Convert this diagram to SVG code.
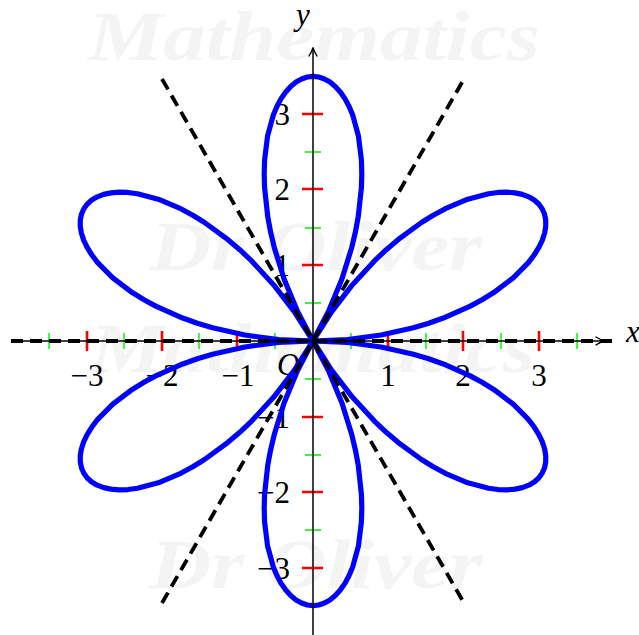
<svg xmlns="http://www.w3.org/2000/svg" width="639" height="635" viewBox="0 0 639 635">
<style>
.wm{font-family:"Liberation Serif","DejaVu Serif",serif;font-style:italic;font-weight:bold;font-size:70px;fill:#f4f4f4}
.lbl{font-family:"Liberation Serif","DejaVu Serif",serif;font-size:31px;fill:#000}
.it{font-style:italic}
.maj{stroke:#ff0000;stroke-width:2.6}
.min{stroke:#00ee00;stroke-width:1.4}
.axis{stroke:#000;stroke-width:1.5;fill:none}
.dash{stroke:#000;stroke-width:3.8;stroke-dasharray:12 7;fill:none}
.petal{fill:none;stroke:#0000ff;stroke-width:5.2;stroke-linejoin:round}
</style>
<defs>
<marker id="arr" viewBox="0 0 10 10" refX="9" refY="5" markerWidth="10" markerHeight="10" markerUnits="userSpaceOnUse" orient="auto">
<path d="M0.5,0.8 Q5.5,4 9.5,5 Q5.5,6 0.5,9.2" fill="none" stroke="#000" stroke-width="1.3"/>
</marker>
<path id="pt" d="M0,0 L15.95,-30.64 L28.94,-62.06 L38.75,-93.55 L42.42,-109.07 L45.25,-124.32 L48.44,-153.63 L48.8,-167 L48.43,-180.73 L45.43,-204.95 L39.79,-225.67 L36.10,-234.55 L31.91,-242.37 L27.28,-249.07 L22.28,-254.61 L16.97,-258.96 L11.44,-262.08 L5.76,-263.97 L0,-264.6 L-5.76,-263.97 L-11.44,-262.08 L-16.97,-258.96 L-22.28,-254.61 L-27.28,-249.07 L-31.91,-242.37 L-36.10,-234.55 L-39.79,-225.67 L-45.43,-204.95 L-48.43,-180.73 L-48.8,-167 L-48.44,-153.63 L-45.25,-124.32 L-42.42,-109.07 L-38.75,-93.55 L-28.94,-62.06 L-15.95,-30.64 Z"/>
</defs>
<rect width="639" height="635" fill="#fff"/>
<g id="watermark">
<text class="wm" x="88" y="60" textLength="452" lengthAdjust="spacingAndGlyphs">Mathematics</text>
<text class="wm" x="150" y="270" textLength="332" lengthAdjust="spacingAndGlyphs">Dr Oliver</text>
<text class="wm" x="90" y="372" textLength="445" lengthAdjust="spacingAndGlyphs">Mathematics</text>
<text class="wm" x="150" y="588" textLength="332" lengthAdjust="spacingAndGlyphs">Dr Oliver</text>
<text class="wm" x="90" y="684" textLength="445" lengthAdjust="spacingAndGlyphs">Mathematics</text>
</g>
<g id="ticks">
<path class="maj" d="M87,331V351 M162,331V351 M237,331V351 M388,331V351 M463,331V351 M539,331V351"/>
<path class="min" d="M49,333V349 M124,333V349 M199,333V349 M275,333V349 M351,333V349 M426,333V349 M501,333V349 M577,333V349"/>
<path class="maj" d="M302,114H323 M302,189H323 M302,265H323 M302,417H323 M302,492H323 M302,568H323"/>
<path class="min" d="M305,76H321 M305,152H321 M305,228H321 M305,303H321 M305,379H321 M305,455H321 M305,530H321 M305,606H321"/>
</g>
<g id="labels">
<g class="lbl" text-anchor="middle">
<text x="87" y="386">−3</text>
<text x="162" y="386">−2</text>
<text x="238" y="386">−1</text>
<text x="388" y="386">1</text>
<text x="463" y="386">2</text>
<text x="539" y="386">3</text>
</g>
<g class="lbl" text-anchor="end">
<text x="290" y="125">3</text>
<text x="290" y="200">2</text>
<text x="290" y="276">1</text>
<text x="290" y="428">−1</text>
<text x="290" y="503">−2</text>
<text x="290" y="579">−3</text>
</g>
<text class="lbl it" x="277" y="375">O</text>
<text class="lbl it" x="626" y="342">x</text>
<text class="lbl it" x="296" y="25">y</text>
</g>
<g id="rose" transform="translate(313,341)">
<use href="#pt" class="petal"/>
<use href="#pt" class="petal" transform="rotate(60)"/>
<use href="#pt" class="petal" transform="rotate(120)"/>
<use href="#pt" class="petal" transform="rotate(180)"/>
<use href="#pt" class="petal" transform="rotate(240)"/>
<use href="#pt" class="petal" transform="rotate(300)"/>
</g>
<g id="connectors">
<path class="axis" d="M11,341H604" marker-end="url(#arr)"/>
<path class="axis" d="M313,635V48" marker-end="url(#arr)"/>
<path class="dash" d="M11,341H615"/>
<path class="dash" d="M162,603L464,79"/>
<path class="dash" d="M162,79L464,603"/>
</g>
</svg>
